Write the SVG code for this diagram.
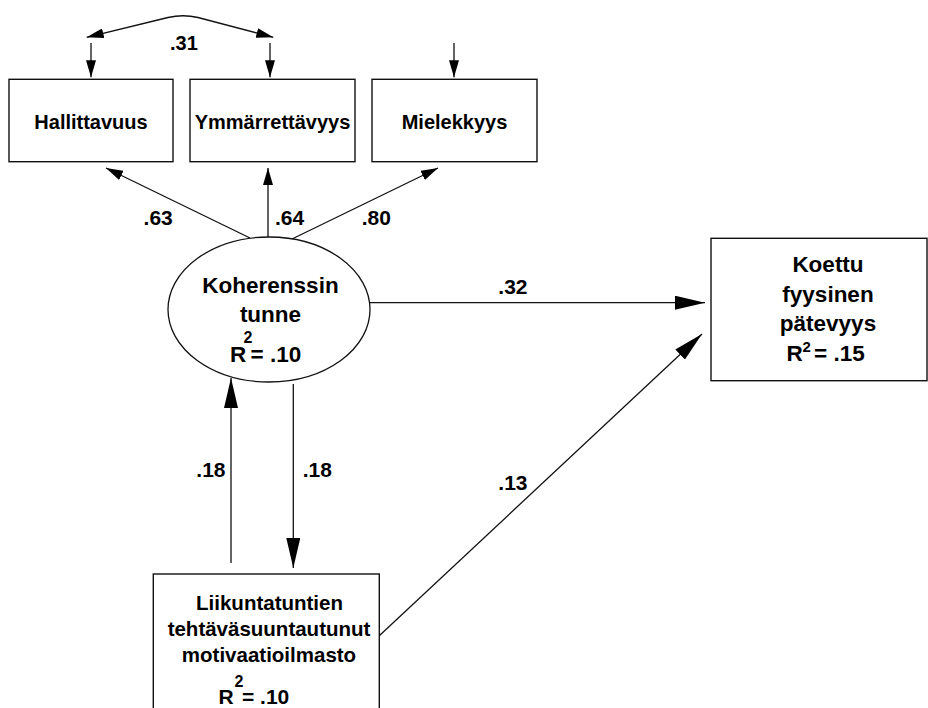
<svg xmlns="http://www.w3.org/2000/svg" width="928" height="708" viewBox="0 0 928 708">
<style>
  .box { fill: #fff; stroke: #111; stroke-width: 1.4; }
  .ell { fill: #fff; stroke: #111; stroke-width: 1.3; }
  .t { font-family: "Liberation Sans", Arial, sans-serif; font-weight: bold; fill: #000; }
  .c { text-anchor: middle; }
  .line { fill: none; stroke: #111; stroke-width: 1.3; }
  .sm { marker-end: url(#ah); }
  .bg { marker-end: url(#ahb); }
</style>
<defs>
  <marker id="ah" markerUnits="userSpaceOnUse" viewBox="0 0 17 10" markerWidth="17" markerHeight="10" refX="17" refY="5" orient="auto-start-reverse">
    <path d="M0,0 L17,5 L0,10 z" fill="#000"/>
  </marker>
  <marker id="ahb" markerUnits="userSpaceOnUse" viewBox="0 0 30 14" markerWidth="30" markerHeight="14" refX="30" refY="7" orient="auto">
    <path d="M0,0 L30,7 L0,14 z" fill="#000"/>
  </marker>
</defs>
<rect width="928" height="708" fill="#fff"/>

<g id="connectors">
  <path class="line" d="M86.7,37.3 L168,17.5 Q183,14 198,17.5 L273.3,37.3" marker-start="url(#ah)" marker-end="url(#ah)"/>
  <line class="line sm" x1="91" y1="43" x2="91" y2="77.3"/>
  <line class="line sm" x1="270" y1="43" x2="270" y2="77.3"/>
  <line class="line sm" x1="454" y1="43" x2="454" y2="77.3"/>
  <line class="line sm" x1="250" y1="238" x2="106" y2="168"/>
  <line class="line sm" x1="268" y1="237" x2="268" y2="168"/>
  <line class="line sm" x1="292" y1="239" x2="438" y2="168"/>
  <line class="line bg" x1="370" y1="302.7" x2="705" y2="302.7"/>
  <line class="line bg" x1="379" y1="636" x2="702" y2="334"/>
  <line class="line bg" x1="231" y1="563" x2="231" y2="378"/>
  <line class="line bg" x1="293.3" y1="384" x2="293.3" y2="568"/>
  <text class="t" x="170" y="50" font-size="20">.31</text>
  <text class="t" x="143.6" y="225" font-size="21">.63</text>
  <text class="t" x="275" y="225" font-size="21">.64</text>
  <text class="t" x="361.7" y="225" font-size="21">.80</text>
  <text class="t" x="498.3" y="294" font-size="21">.32</text>
  <text class="t" x="498.3" y="490" font-size="21">.13</text>
  <text class="t" x="225.5" y="476.7" font-size="21" text-anchor="end">.18</text>
  <text class="t" x="302.7" y="476.7" font-size="21">.18</text>
</g>

<g id="hallittavuus">
  <rect class="box" x="9" y="79.3" width="164" height="82.4"/>
  <text class="t c" x="91" y="128.5" font-size="20">Hallittavuus</text>
</g>
<g id="ymmarrettavyys">
  <rect class="box" x="190" y="79.3" width="165" height="82.4"/>
  <text class="t c" x="272.5" y="128.5" font-size="20">Ymmärrettävyys</text>
</g>
<g id="mielekkyys">
  <rect class="box" x="372" y="79.3" width="165" height="82.4"/>
  <text class="t c" x="454.5" y="128.5" font-size="20">Mielekkyys</text>
</g>

<g id="koherenssin">
  <ellipse class="ell" cx="269" cy="309.5" rx="101" ry="72.5"/>
  <text class="t c" x="270.5" y="293.3" font-size="22.5">Koherenssin</text>
  <text class="t c" x="270.5" y="321.7" font-size="22.5">tunne</text>
  <text class="t" x="230" y="361.7" font-size="22.5">R</text>
  <text class="t" x="243.5" y="343.3" font-size="16">2</text>
  <text class="t" x="250.5" y="361.7" font-size="22.5">= .10</text>
</g>

<g id="koettu">
  <rect class="box" x="711" y="238.3" width="216" height="142.4"/>
  <text class="t c" x="828" y="271.7" font-size="22.5">Koettu</text>
  <text class="t c" x="828" y="301.7" font-size="22.5">fyysinen</text>
  <text class="t c" x="828" y="331" font-size="22.5">pätevyys</text>
  <text class="t" x="786.5" y="361" font-size="22.5">R</text>
  <text class="t" x="802.5" y="351.7" font-size="15">2</text>
  <text class="t" x="814" y="361" font-size="22.5">= .15</text>
</g>

<g id="liikunta">
  <rect class="box" x="153.3" y="574" width="226" height="150"/>
  <text class="t c" x="269.5" y="609.5" font-size="20.5">Liikuntatuntien</text>
  <text class="t c" x="269" y="636" font-size="20.5">tehtäväsuuntautunut</text>
  <text class="t c" x="269" y="661.5" font-size="20.5">motivaatioilmasto</text>
  <text class="t" x="218.5" y="704.3" font-size="21">R</text>
  <text class="t" x="234.5" y="686.7" font-size="16">2</text>
  <text class="t" x="242" y="704.3" font-size="21">= .10</text>
</g>
</svg>
